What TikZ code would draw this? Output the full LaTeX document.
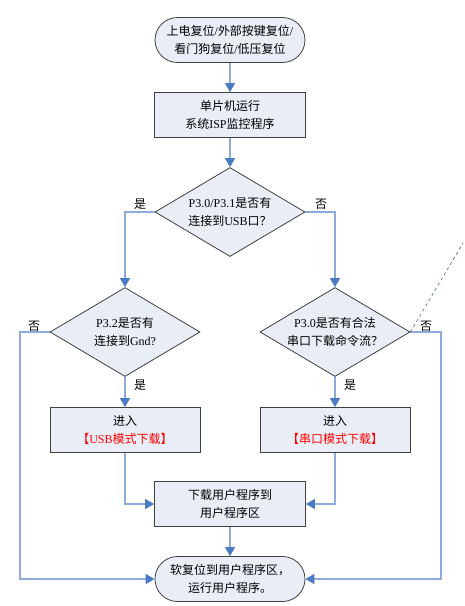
\documentclass[tikz,border=0pt]{standalone}
\usepackage{fontspec}
\setmainfont{Liberation Serif}
\newfontfamily\cjk{Noto Sans CJK SC}
\newcommand\zh[1]{{\cjk #1}}
\usetikzlibrary{shapes.geometric,arrows.meta}
\definecolor{fillc}{HTML}{E9EEF6}
\definecolor{linec}{HTML}{8FAADC}
\definecolor{tipc}{HTML}{4A7BC4}
\definecolor{edgec}{HTML}{404040}
\definecolor{dashc}{HTML}{4A5F9A}
\tikzset{
  every node/.style={font=\fontsize{12}{18}\selectfont},
  term/.style={draw=edgec,fill=fillc,line width=0.8pt,rounded corners=22.5pt,minimum width=150pt,minimum height=45pt,align=center,inner sep=0pt},
  procbox/.style={draw=edgec,fill=fillc,line width=0.8pt,minimum width=151pt,minimum height=45pt,align=center,inner sep=0pt},
  decis/.style={draw=edgec,fill=fillc,line width=0.8pt,shape=diamond,minimum width=150pt,minimum height=89pt,inner sep=0pt},
  dtext/.style={align=center,inner sep=0pt},
  flow/.style={draw=linec,line width=1.3pt,-{Triangle[width=10pt,length=9pt,color=tipc]}},
  plain/.style={draw=linec,line width=1.3pt},
  lab/.style={inner sep=0pt}
}
\begin{document}
\begin{tikzpicture}[x=1pt,y=1pt]
\useasboundingbox (0,0) rectangle (465,-606);
\node[term] (start) at (230,-40) {\zh{上电复位}/\zh{外部按键复位}/\\\zh{看门狗复位}/\zh{低压复位}};
\node[procbox] (b1) at (230,-115) {\zh{单片机运行}\\\zh{系统}ISP\zh{监控程序}};
\node[decis] (d1) at (230,-212) {};
\node[dtext] at (d1) {P3.0/P3.1\zh{是否有}\\\zh{连接到}USB\zh{口？}};
\node[decis] (d2) at (125,-332) {};
\node[dtext] at (d2) {P3.2\zh{是否有}\\\zh{连接到}Gnd?};
\node[decis] (d3) at (335,-332) {};
\node[dtext] at (d3) {P3.0\zh{是否有合法}\\\zh{串口下载命令流？}};
\node[procbox,minimum width=150pt] (b2) at (125,-430) {\zh{进入}\\\textcolor{red}{\zh{【}USB\zh{模式下载】}}};
\node[procbox,minimum width=150pt] (b3) at (335,-430) {\zh{进入}\\\textcolor{red}{\zh{【串口模式下载】}}};
\node[procbox] (b4) at (230,-504) {\zh{下载用户程序到}\\\zh{用户程序区}};
\node[term] (fin) at (230,-579) {\zh{软复位到用户程序区，}\\\zh{运行用户程序。}};

\coordinate (dtop) at (463,-243);
\coordinate (lx) at (20,0);
\coordinate (rx) at (441,0);

\draw[flow] (start) -- (b1);
\draw[flow] (b1) -- (d1);
\draw[flow] (d1.west) -| (d2.north);
\draw[flow] (d1.east) -| (d3.north);
\draw[flow] (d2) -- (b2);
\draw[flow] (d3) -- (b3);
\draw[flow] (b2.south) |- (b4.west);
\draw[flow] (b3.south) |- (b4.east);
\draw[flow] (b4) -- (fin);
\draw[flow] (d2.west) -- (d2.west -| lx) |- (fin.west);
\draw[flow] (d3.east) -- (d3.east -| rx) |- (fin.east);
\draw[dashc,dashed,line width=0.6pt] (d3.east) -- (dtop);

\node[lab] (l1) at (140,-204) {\zh{是}};
\node[lab] (l2) at (321,-204) {\zh{否}};
\node[lab] (l3) at (34,-326) {\zh{否}};
\node[lab] (l4) at (426,-326) {\zh{否}};
\node[lab] (l5) at (140,-385) {\zh{是}};
\node[lab] (l6) at (350,-385) {\zh{是}};
\end{tikzpicture}
\end{document}
